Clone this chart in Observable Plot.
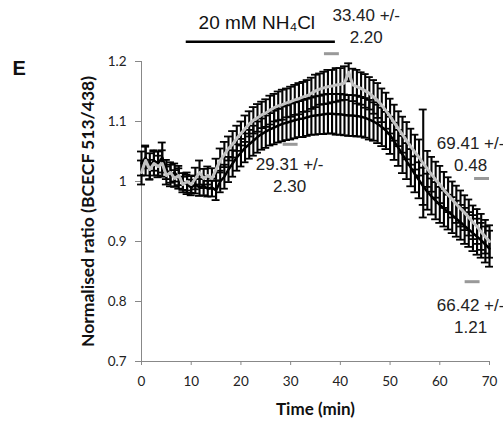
<!DOCTYPE html>
<html><head><meta charset="utf-8">
<script src="https://cdn.jsdelivr.net/npm/d3@7"></script>
<script src="https://cdn.jsdelivr.net/npm/@observablehq/plot@0.6"></script>
<style>body{margin:0;background:#fff;} #chart svg{display:block;}</style>
</head><body><div id="chart"></div>
<script>
// time points (min), one reading every 50 s
const times = d3.range(85).map(i => +(i * 70 / 84).toFixed(2));

const grayMean = [1.015,1.035,1.02,1.03,1.025,1.03,1.01,1.015,1.005,1.01,
0.995,1.0,0.995,1.005,1.015,1.005,1.01,1.005,1.02,1.035,
1.045,1.055,1.062,1.072,1.08,1.088,1.096,1.102,1.106,1.111,
1.114,1.119,1.123,1.126,1.128,1.131,1.133,1.136,1.138,1.141,
1.143,1.147,1.151,1.154,1.156,1.158,1.159,1.161,1.162,1.164,
1.182,1.161,1.158,1.155,1.151,1.147,1.141,1.135,1.127,1.118,
1.109,1.098,1.088,1.078,1.068,1.058,1.049,1.04,1.03,1.021,
1.012,1.003,0.995,0.986,0.978,0.97,0.962,0.955,0.948,0.94,
0.932,0.925,0.916,0.908,0.9];
const grayErr = [0.02,0.025,0.016,0.02,0.018,0.022,0.015,0.017,0.014,0.016,
0.013,0.015,0.014,0.018,0.02,0.016,0.015,0.017,0.018,
0.02,0.021,0.02,0.022,0.021,0.02,0.022,0.021,0.022,0.023,0.022,0.023,0.024,0.023,0.024,0.025,0.024,0.025,0.025,0.026,0.025,0.026,
0.026,0.027,0.026,0.027,0.028,0.027,0.028,0.027,0.028,0.015,0.027,0.028,0.027,0.028,0.027,0.028,0.029,0.028,0.03,0.029,
0.03,0.029,0.03,0.031,0.03,0.029,0.03,0.09,0.03,0.029,0.03,0.031,0.03,0.029,0.03,0.031,0.03,0.029,0.03,0.028,0.029,0.03,0.028,0.027];
const blackMean = [1.03,1.04,1.025,1.035,1.03,1.04,1.02,1.01,1.015,1.005,
1.0,0.995,0.99,0.995,0.99,0.993,0.988,0.99,0.985,1.0,
1.008,1.02,1.03,1.04,1.048,1.056,1.062,1.068,1.074,1.079,
1.083,1.087,1.09,1.093,1.096,1.098,1.1,1.102,1.104,1.105,
1.107,1.109,1.11,1.111,1.112,1.113,1.113,1.112,1.112,1.111,
1.11,1.11,1.109,1.108,1.106,1.103,1.1,1.096,1.091,1.085,
1.077,1.067,1.056,1.045,1.034,1.023,1.012,1.002,0.992,0.983,
0.975,0.968,0.961,0.955,0.949,0.944,0.938,0.932,0.926,0.92,
0.914,0.908,0.902,0.895,0.888];
const blackErr = [0.02,0.018,0.022,0.017,0.02,0.025,0.016,0.018,0.015,0.017,
0.014,0.016,0.013,0.015,0.014,0.016,0.013,0.015,0.016,
0.018,0.02,0.021,0.022,0.022,0.023,0.024,0.024,0.025,0.026,0.026,0.027,0.027,0.028,0.028,0.029,0.029,0.03,0.03,0.03,0.031,0.031,
0.031,0.032,0.032,0.033,0.033,0.033,0.034,0.034,0.034,0.034,0.034,0.034,0.033,0.033,0.033,0.032,0.032,0.032,0.031,0.031,
0.031,0.03,0.031,0.03,0.031,0.03,0.03,0.031,0.03,0.03,0.031,0.03,0.03,0.029,0.03,0.03,0.029,0.03,0.029,0.03,0.03,0.029,0.03,0.03];

const xTicks = [0,10,20,30,40,50,60,70];
const yTicks = [0.7,0.8,0.9,1.0,1.1,1.2];

// annotations (time, ratio)
const noteLabels = ["33.40 +/-\n2.20", "29.31 +/-\n2.30", "69.41 +/-\n0.48", "66.42 +/-\n1.21"];
const noteX = [45.2, 29.8, 66.2, 66.2];
const noteY = [1.261, 1.012, 1.047, 0.778];
const dashX = [38.3, 30.0, 68.5, 66.6];
const dashY = [1.213, 1.062, 1.005, 0.833];
const treatLabel = "20 mM NH₄Cl";
const treatStart = 9, treatEnd = 39, treatY = 1.233, treatLabelX = 23.2, treatLabelY = 1.265;

const rows = times.map((t, i) => ({t, g: grayMean[i], ge: grayErr[i], b: blackMean[i], be: blackErr[i]}));
const notes = noteLabels.map((s, i) => ({s, x: noteX[i], y: noteY[i]}));
const dashes = dashX.map((x, i) => ({x, y: dashY[i]}));
const cap = 0.8;

function errMarks(yk, ek, color) {
  return [
    Plot.ruleX(rows, {x: "t", y1: d => d[yk] - d[ek], y2: d => d[yk] + d[ek], stroke: color, strokeWidth: 2.1}),
    Plot.ruleY(rows, {y: d => d[yk] + d[ek], x1: d => d.t - cap, x2: d => d.t + cap, stroke: color, strokeWidth: 1.8}),
    Plot.ruleY(rows, {y: d => d[yk] - d[ek], x1: d => d.t - cap, x2: d => d.t + cap, stroke: color, strokeWidth: 1.8})
  ];
}

const plot = Plot.plot({
  width: 503, height: 427,
  marginLeft: 141, marginRight: 14, marginTop: 61, marginBottom: 66,
  style: {fontFamily: "Lato, sans-serif", fontSize: "13px", color: "#222", background: "#fff", overflow: "visible"},
  x: {domain: [0, 70]},
  y: {domain: [0.7, 1.2]},
  marks: [
    Plot.axisX({ticks: xTicks, tickSize: 4, tickPadding: 11, stroke: "#888", fill: "#222", label: null, fontSize: 13.5}),
    Plot.axisY({ticks: yTicks, tickFormat: d => String(+d.toFixed(1)), tickSize: 6, tickPadding: 9, stroke: "#888", fill: "#222", label: null, fontSize: 13.5}),
    Plot.ruleX([0], {stroke: "#888"}),
    Plot.ruleY([0.7], {stroke: "#888"}),
    ...errMarks("b", "be", "#000"),
    ...errMarks("g", "ge", "#050505"),
    Plot.line(rows, {x: "t", y: "b", stroke: "#000", strokeWidth: 2.5}),
    Plot.line(rows, {x: "t", y: "g", stroke: "#c2c2c2", strokeWidth: 3}),
    Plot.ruleY(dashes, {y: "y", x1: d => d.x - 1.5, x2: d => d.x + 1.5, stroke: "#999", strokeWidth: 3}),
    Plot.text(notes, {x: "x", y: "y", text: "s", fontFamily: "'Liberation Sans', Arial, sans-serif", fontSize: 17, lineHeight: 1.3, fill: "#222"}),
    Plot.ruleY([treatY], {x1: treatStart, x2: treatEnd, stroke: "#000", strokeWidth: 2.5}),
    Plot.text([treatLabel], {x: treatLabelX, y: treatLabelY, fontFamily: "'Liberation Sans', Arial, sans-serif", fontSize: 19, fill: "#111"}),
    Plot.text(["Time (min)"], {frameAnchor: "bottom", dy: 53, fontWeight: "bold", fontSize: 17, fill: "#111"}),
    Plot.text(["Normalised ratio (BCECF 513/438)"], {frameAnchor: "left", textAnchor: "middle", rotate: -90, dx: -53, fontWeight: "bold", fontSize: 17.5, fill: "#111"}),
    Plot.text(["E"], {frameAnchor: "top-left", dx: -129, dy: -1, fontWeight: "bold", fontSize: 20, fontFamily: "'Liberation Sans', Arial, sans-serif", fill: "#111"})
  ]
});
document.getElementById("chart").appendChild(plot);
</script>
</body></html>
